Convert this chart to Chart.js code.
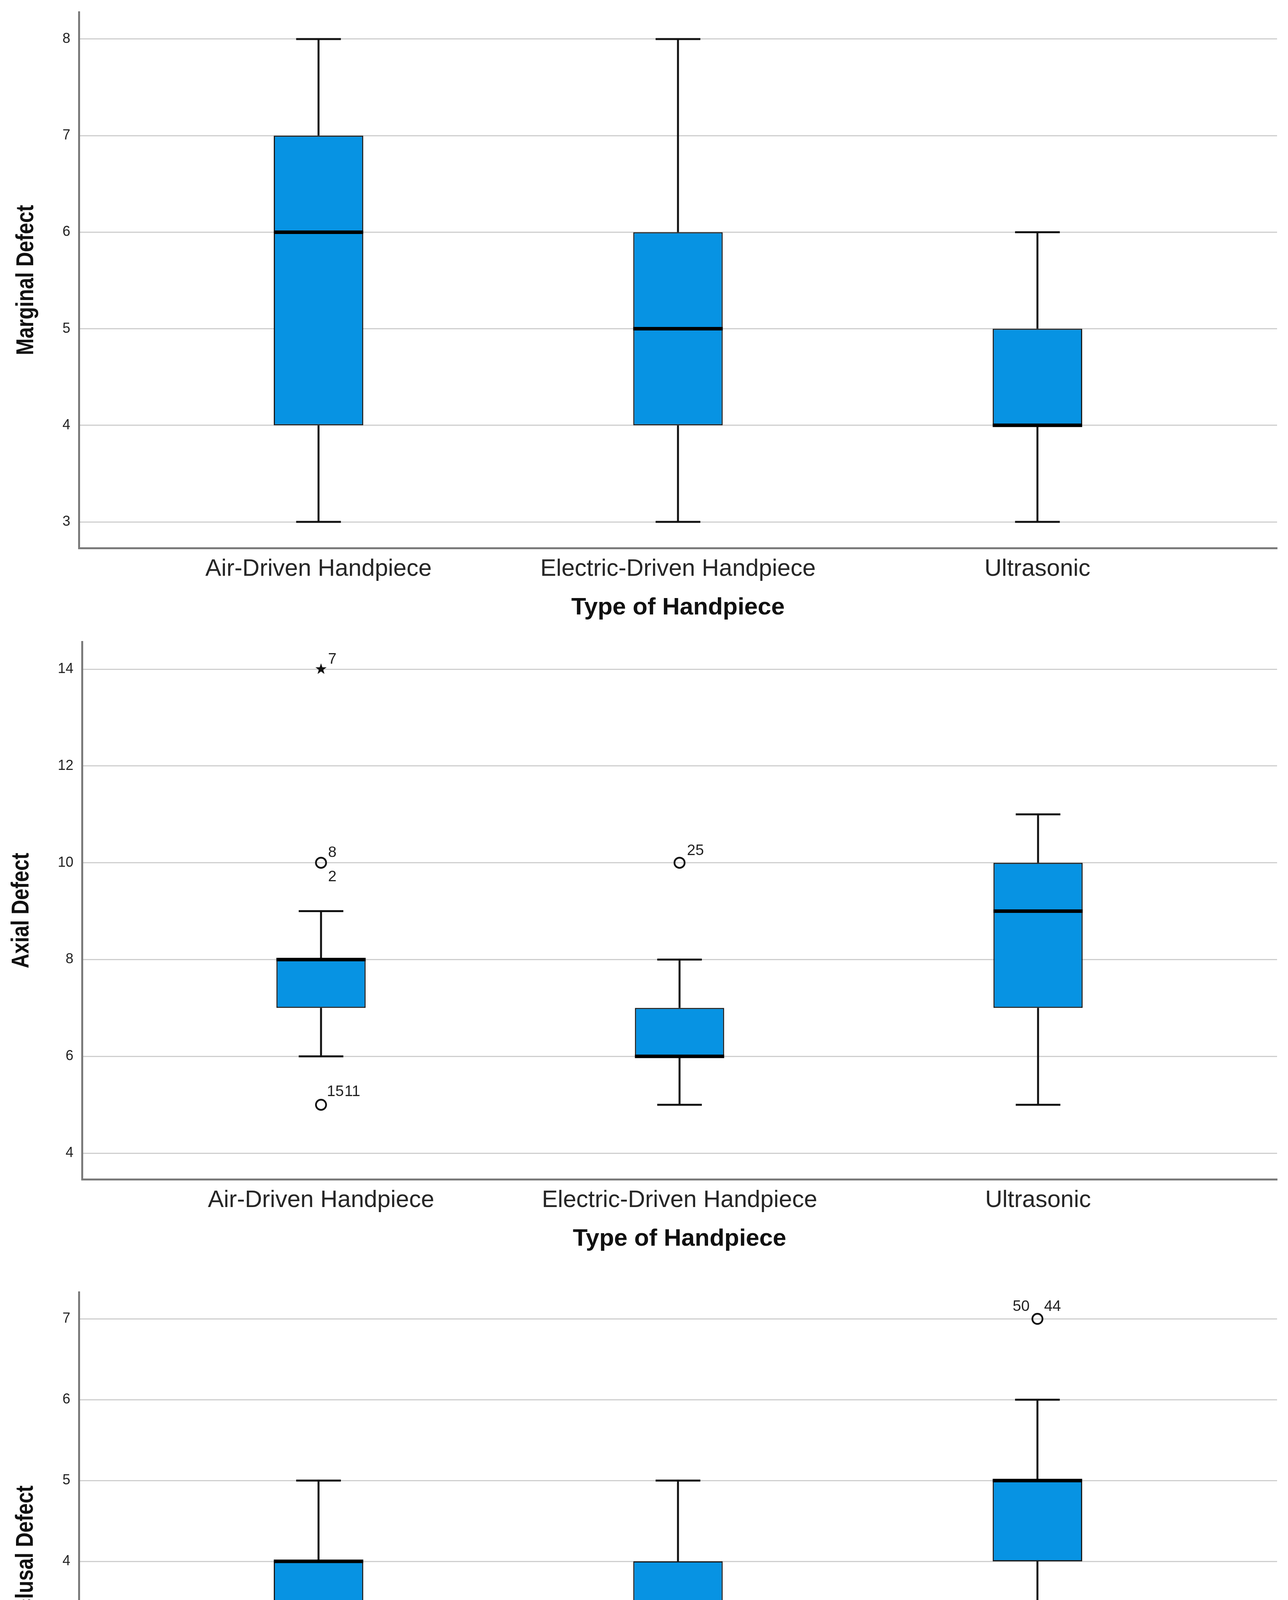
<!DOCTYPE html>
<html>
<head>
<meta charset="utf-8">
<script src="https://cdn.jsdelivr.net/npm/chart.js@4.4.1/dist/chart.umd.min.js"></script>
<style>
  html, body { margin: 0; padding: 0; background: #fff; }
  body { width: 3298px; height: 4906px; position: relative; overflow: hidden; }
  canvas { position: absolute; left: 0; }
</style>
</head>
<body>
<canvas id="marginal"></canvas>
<canvas id="axial"></canvas>
<canvas id="occlusal"></canvas>
<script>
// ---- data ----
const categories = ['Air-Driven Handpiece', 'Electric-Driven Handpiece', 'Ultrasonic'];

const marginalMin    = [3, 3, 3];
const marginalQ1     = [4, 4, 4];
const marginalMedian = [6, 5, 4];
const marginalQ3     = [7, 6, 5];
const marginalMax    = [8, 8, 6];
const marginalTicks  = [3, 4, 5, 6, 7, 8];

const axialMin    = [6, 5, 5];
const axialQ1     = [7, 6, 7];
const axialMedian = [8, 6, 9];
const axialQ3     = [8, 7, 10];
const axialMax    = [9, 8, 11];
const axialTicks  = [4, 6, 8, 10, 12, 14];
const axialOutlierCat   = [1, 1, 2];
const axialOutlierValue = [10, 5, 10];
const axialOutlierIds   = [['8', '2'], ['15', '11'], ['25']];
const axialExtremeCat   = [1];
const axialExtremeValue = [14];
const axialExtremeIds   = [['7']];

const occlusalMin    = [2, 2, 3];
const occlusalQ1     = [3, 3, 4];
const occlusalMedian = [4, 3, 5];
const occlusalQ3     = [4, 4, 5];
const occlusalMax    = [5, 5, 6];
const occlusalTicks  = [1, 2, 3, 4, 5, 6, 7];
const occlusalOutlierCat   = [1, 2, 3];
const occlusalOutlierValue = [1, 1, 7];
const occlusalOutlierIds   = [['15', '11', '2'], ['25'], ['50', '44']];

// ---- styling ----
const BLUE = '#0793e3';
const INK = '#111111';
const AXIS_GRAY = '#7a7a7a';
const GRID_GRAY = '#cfcfcf';
const SANS = '"Liberation Sans", Arial, sans-serif';

function makeStar(size) {
  const c = document.createElement('canvas');
  c.width = c.height = size;
  const g = c.getContext('2d');
  g.fillStyle = INK;
  g.beginPath();
  for (let k = 0; k < 10; k++) {
    const r = k % 2 ? size * 0.2 : size * 0.5;
    const a = -Math.PI / 2 + k * Math.PI / 5;
    g.lineTo(size / 2 + r * Math.cos(a), size / 2 + r * Math.sin(a));
  }
  g.closePath();
  g.fill();
  return c;
}
const starImg = makeStar(30);

function points(cats, values) {
  return cats.map((c, i) => ({ x: c, y: values[i] }));
}

function makePanel(id, p) {
  const canvas = document.getElementById(id);
  canvas.width = 3298;
  canvas.height = p.height;
  canvas.style.top = p.top + 'px';

  // whiskers, caps, medians, case labels and the narrow y title
  const boxPlugin = {
    id: 'box_' + id,
    beforeDatasetsDraw(chart) {
      const { ctx, scales: { x, y } } = chart;
      const bars = chart.getDatasetMeta(0).data;
      ctx.save();
      ctx.strokeStyle = INK;
      ctx.lineWidth = 5;
      categories.forEach((c, i) => {
        const px = x.getPixelForValue(i + 1);
        const half = bars[i].width / 4;
        ctx.beginPath();
        ctx.moveTo(px, y.getPixelForValue(p.max[i]));
        ctx.lineTo(px, y.getPixelForValue(p.q3[i]));
        ctx.moveTo(px, y.getPixelForValue(p.q1[i]));
        ctx.lineTo(px, y.getPixelForValue(p.min[i]));
        ctx.moveTo(px - half, y.getPixelForValue(p.max[i]));
        ctx.lineTo(px + half, y.getPixelForValue(p.max[i]));
        ctx.moveTo(px - half, y.getPixelForValue(p.min[i]));
        ctx.lineTo(px + half, y.getPixelForValue(p.min[i]));
        ctx.stroke();
      });
      ctx.restore();
    },
    afterDatasetsDraw(chart) {
      const { ctx, scales: { x, y } } = chart;
      const bars = chart.getDatasetMeta(0).data;
      ctx.save();
      ctx.strokeStyle = '#000';
      ctx.lineWidth = 9;
      categories.forEach((c, i) => {
        const b = bars[i];
        const py = y.getPixelForValue(p.median[i]);
        ctx.beginPath();
        ctx.moveTo(b.x - b.width / 2, py);
        ctx.lineTo(b.x + b.width / 2, py);
        ctx.stroke();
      });
      ctx.fillStyle = '#222';
      ctx.font = '39px ' + SANS;
      ctx.textBaseline = 'alphabetic';
      const drawIds = (cats, vals, ids, offs) => {
        cats.forEach((c, i) => {
          const px = x.getPixelForValue(c);
          const py = y.getPixelForValue(vals[i]);
          ids[i].forEach((t, k) => {
            const o = offs[i][k];
            ctx.textAlign = o[2] || 'left';
            ctx.fillText(t, px + o[0], py + o[1]);
          });
        });
      };
      if (p.outCat) drawIds(p.outCat, p.outVal, p.outIds, p.outOffsets);
      if (p.extCat) drawIds(p.extCat, p.extVal, p.extIds, p.extOffsets);
      ctx.restore();
    },
    afterDraw(chart) {
      // SPSS uses a condensed bold face for the value axis title
      const { ctx, chartArea } = chart;
      ctx.save();
      ctx.translate(p.titleX, (chartArea.top + chartArea.bottom) / 2);
      ctx.rotate(-Math.PI / 2);
      ctx.scale(0.82, 1);
      ctx.fillStyle = INK;
      ctx.font = 'bold 63px ' + SANS;
      ctx.textAlign = 'center';
      ctx.textBaseline = 'middle';
      ctx.fillText(p.yTitle, 0, 0);
      ctx.restore();
    }
  };

  const datasets = [{
    type: 'bar',
    data: categories.map((c, i) => ({ x: i + 1, y: [p.q1[i], p.q3[i]] })),
    backgroundColor: BLUE,
    borderColor: '#1c1c1c',
    borderWidth: 3,
    borderSkipped: false,
    categoryPercentage: 1,
    barPercentage: 0.249
  }];
  if (p.outCat) {
    datasets.push({
      type: 'scatter',
      data: points(p.outCat, p.outVal),
      pointStyle: 'circle',
      pointRadius: 13,
      pointBorderWidth: 4.5,
      pointBorderColor: INK,
      pointBackgroundColor: 'rgba(0,0,0,0)'
    });
  }
  if (p.extCat) {
    datasets.push({
      type: 'scatter',
      data: points(p.extCat, p.extVal),
      pointStyle: starImg,
      pointRadius: 15
    });
  }

  new Chart(canvas, {
    type: 'bar',
    data: { datasets: datasets },
    options: {
      responsive: false,
      animation: false,
      devicePixelRatio: 1,
      layout: { padding: { top: p.padTop, right: 28, left: 0, bottom: 0 } },
      plugins: { legend: { display: false }, tooltip: { enabled: false } },
      scales: {
        x: {
          type: 'linear',
          offset: false,
          min: 1 / 3,
          max: 3 + 2 / 3,
          grid: { display: false, drawTicks: false },
          border: { display: true, color: AXIS_GRAY, width: 5 },
          afterBuildTicks: s => { s.ticks = categories.map((c, i) => ({ value: i + 1 })); },
          afterFit: s => { s.height = 217; s.paddingLeft = 0; s.paddingRight = 0; },
          ticks: {
            callback: v => categories[v - 1],
            font: { family: SANS, size: 61 },
            color: '#262626',
            padding: 18,
            maxRotation: 0,
            autoSkip: false
          },
          title: {
            display: true,
            text: 'Type of Handpiece',
            color: INK,
            font: { family: SANS, size: 62, weight: 'bold' },
            padding: { top: 0, bottom: 27 }
          }
        },
        y: {
          min: p.yMin,
          max: p.yMax,
          beginAtZero: false,
          afterBuildTicks: s => { s.ticks = p.ticks.map(v => ({ value: v })); },
          afterFit: s => { s.width = p.axisX; s.paddingTop = 0; s.paddingBottom = 0; },
          grid: { color: GRID_GRAY, lineWidth: 3, drawTicks: false },
          border: { display: true, color: AXIS_GRAY, width: 5 },
          ticks: { font: { family: SANS, size: 36 }, color: '#222', padding: 22 },
          title: { display: false, text: p.yTitle }
        }
      }
    },
    plugins: [boxPlugin]
  });
}

makePanel('marginal', {
  top: 0, height: 1620, padTop: 31, axisX: 202, titleX: 68,
  yMin: 2.729, yMax: 8.279, ticks: marginalTicks, yTitle: 'Marginal Defect',
  min: marginalMin, q1: marginalQ1, median: marginalMedian, q3: marginalQ3, max: marginalMax
});

makePanel('axial', {
  top: 1620, height: 1616, padTop: 23, axisX: 210, titleX: 56,
  yMin: 3.46, yMax: 14.565, ticks: axialTicks, yTitle: 'Axial Defect',
  min: axialMin, q1: axialQ1, median: axialMedian, q3: axialQ3, max: axialMax,
  outCat: axialOutlierCat, outVal: axialOutlierValue, outIds: axialOutlierIds,
  outOffsets: [[[18, -15], [18, 47]], [[15, -22], [60, -22]], [[19, -20]]],
  extCat: axialExtremeCat, extVal: axialExtremeValue, extIds: axialExtremeIds,
  extOffsets: [[[18, -14]]]
});

makePanel('occlusal', {
  top: 3236, height: 1666, padTop: 72, axisX: 202, titleX: 67,
  yMin: 0.676, yMax: 7.33, ticks: occlusalTicks, yTitle: 'Occlusal Defect',
  min: occlusalMin, q1: occlusalQ1, median: occlusalMedian, q3: occlusalQ3, max: occlusalMax,
  outCat: occlusalOutlierCat, outVal: occlusalOutlierValue, outIds: occlusalOutlierIds,
  outOffsets: [[[-16, -20, 'right'], [15, -24], [69, -15]], [[19, -20]], [[-20, -20, 'right'], [17, -20]]]
});
</script>
</body>
</html>
